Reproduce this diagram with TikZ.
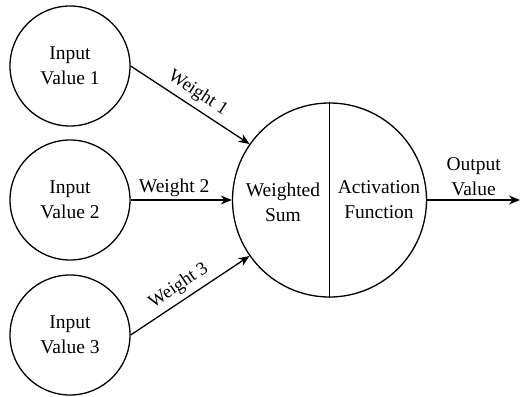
\documentclass[tikz,border=0pt]{standalone}
\usepackage{fontspec}
\setmainfont{Liberation Serif}
\usetikzlibrary{arrows.meta}
\begin{document}
\begin{tikzpicture}[x=1pt,y=-1pt,
  font=\fontsize{19.5}{25}\selectfont,
  every path/.style={line width=1.3pt},
  inputnode/.style={circle, draw, minimum size=120pt, inner sep=0pt, align=center},
  neuron/.style={circle, draw, minimum size=194pt, inner sep=0pt},
  arr/.style={-{Stealth[length=11pt,width=9pt]}},
  wlabel/.style={sloped, above, inner sep=5pt, font=\fontsize{18.5}{22}\selectfont}]
\useasboundingbox (0,0) rectangle (521,396);
% input values
\node[inputnode] (in1) at (70,66) {Input\\Value 1};
\node[inputnode] (in2) at (70,200) {Input\\Value 2};
\node[inputnode] (in3) at (70,335) {Input\\Value 3};
% neuron split into summation and activation halves
\node[neuron] (sum) at (329.5,200) {};
\draw (sum.north) -- (sum.south);
\node[align=center] (ws) at (283,202) {Weighted\\Sum};
\node[align=center] (af) at (379,200) {Activation\\Function};
% weighted connections
\draw[arr] (in1.east) -- (sum.145) node[wlabel, pos=0.5] (w1) {Weight 1};
\draw[arr] (in2.east) -- (sum.west) node[wlabel, pos=0.43, inner sep=3pt, font=\fontsize{19.5}{25}\selectfont] (w2) {Weight 2};
\draw[arr] (in3.east) -- (sum.215) node[wlabel, pos=0.47] (w3) {Weight 3};
% output
\coordinate (out) at (520,200);
\draw[arr] (sum.east) -- (out) node[midway, above, align=center, inner sep=4pt] (ov) {Output\\Value};
\end{tikzpicture}
\end{document}
